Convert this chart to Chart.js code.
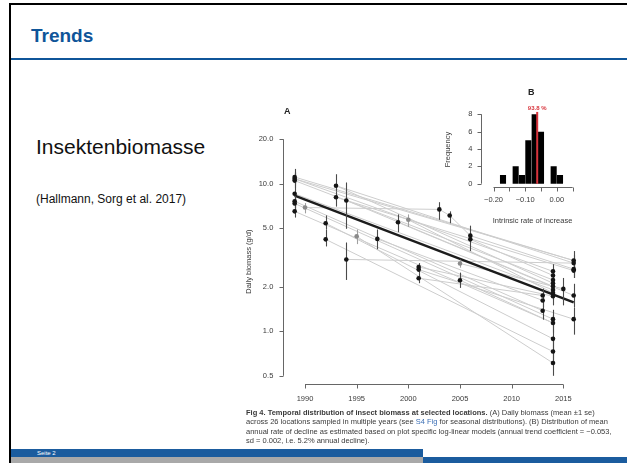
<!DOCTYPE html>
<html>
<head>
<meta charset="utf-8">
<script src="https://cdn.jsdelivr.net/npm/chart.js@4.4.1/dist/chart.umd.min.js"></script>
<style>
html, body { margin: 0; padding: 0; background: #fff; }
body { width: 627px; height: 463px; position: relative; overflow: hidden; font-family: Arial, "Liberation Sans", sans-serif; }
.abs { position: absolute; white-space: nowrap; }
#frameTop { left: 9px; top: 3px; width: 618px; height: 2px; background: #000; }
#frameLeft { left: 9px; top: 3px; width: 2px; height: 460px; background: #000; }
#title { left: 31px; top: 25px; font-size: 19px; font-weight: bold; color: #0f5599; }
#rule { left: 11px; top: 58px; width: 616px; height: 2px; background: #0f5599; }
#subject { left: 36px; top: 135px; font-size: 21px; color: #111; }
#source { left: 36px; top: 192px; font-size: 12px; color: #111; }
#chartA { position: absolute; left: 230px; top: 100px; }
#chartB { position: absolute; left: 430px; top: 95px; }
.panel { font-size: 9px; font-weight: bold; color: #222; }
#caption { left: 246px; top: 408px; font-size: 7.5px; line-height: 9.4px; color: #3a3a3a; }
#caption a { color: #3c6fb5; text-decoration: none; }
#footBlue { left: 11px; top: 449px; width: 412px; height: 8px; background: #1b5c9e; }
#footGrey { left: 11px; top: 457px; width: 412px; height: 6px; background: #a9a9a9; }
#footRight { left: 423px; top: 457px; width: 204px; height: 6px; background: #1b5c9e; }
#page { left: 37px; top: 450px; font-size: 6px; color: #fff; }
</style>
</head>
<body>
<div class="abs" id="frameTop"></div>
<div class="abs" id="frameLeft"></div>
<div class="abs" id="title">Trends</div>
<div class="abs" id="rule"></div>
<div class="abs" id="subject">Insektenbiomasse</div>
<div class="abs" id="source">(Hallmann, Sorg et al. 2017)</div>

<canvas id="chartA" width="360" height="310"></canvas>
<canvas id="chartB" width="180" height="135"></canvas>
<div class="abs panel" style="left:284px; top:106px;">A</div>
<div class="abs panel" style="left:528px; top:87px;">B</div>

<div class="abs" id="caption"><b>Fig 4. Temporal distribution of insect biomass at selected locations.</b> (A) Daily biomass (mean ±1 se)<br>across 26 locations sampled in multiple years (see <a>S4 Fig</a> for seasonal distributions). (B) Distribution of mean<br>annual rate of decline as estimated based on plot specific log-linear models (annual trend coefficient = −0.053,<br>sd = 0.002, i.e. 5.2% annual decline).</div>

<div class="abs" id="footBlue"></div>
<div class="abs" id="footGrey"></div>
<div class="abs" id="footRight"></div>
<div class="abs" id="page">Seite 2</div>

<script>
// ---- panel A: yearly means per location (g/d), with ±1 se ----
const obsYear = [1989, 1989, 1989, 1989, 1989, 1989, 1989, 1990, 1992, 1992, 1993, 1993, 1994, 1994,
  1995, 1997, 1999, 2000, 2001, 2001, 2001, 2003, 2004, 2005, 2005, 2006, 2006,
  2013, 2013, 2013, 2014, 2014, 2014, 2014, 2014, 2014, 2014, 2014, 2014, 2014, 2014, 2014, 2014,
  2015, 2016, 2016, 2016, 2016, 2016, 2016];
const obsMean = [11.1, 10.8, 10.5, 8.55, 7.6, 7.35, 6.5, 6.9, 5.4, 4.2, 9.7, 8.1, 7.7, 3.07,
  4.4, 4.23, 5.48, 5.7, 2.73, 2.62, 2.29, 6.7, 6.1, 2.88, 2.22, 4.45, 4.2,
  1.75, 1.62, 1.38, 2.55, 2.39, 2.23, 2.12, 2.02, 1.91, 1.82, 1.73, 1.21, 1.14, 0.89, 0.73, 0.61,
  1.94, 3.02, 2.9, 2.64, 2.58, 1.75, 1.21];
const obsLow = [9.9, 9.6, 9.4, 7.6, 6.8, 6.5, 5.9, 6.3, 4.9, 3.76, 8.9, 7.0, 4.95, 2.23,
  3.9, 3.6, 4.7, 5.1, 2.55, 2.45, 2.12, 5.7, 5.4, 2.7, 1.97, 4.0, 3.5,
  1.6, 1.45, 1.2, 2.3, 2.15, 2.0, 1.9, 1.8, 1.7, 1.62, 1.5, 1.05, 0.98, 0.76, 0.62, 0.5,
  1.5, 2.7, 2.6, 2.3, 2.3, 1.45, 0.95];
const obsHigh = [12.6, 12.1, 11.8, 9.6, 8.5, 8.3, 7.2, 7.4, 6.1, 4.9, 11.6, 8.9, 10.2, 4.0,
  4.9, 4.9, 6.2, 6.2, 2.9, 2.8, 2.45, 7.5, 6.5, 3.06, 2.5, 5.2, 4.6,
  1.95, 1.8, 1.55, 2.85, 2.65, 2.5, 2.35, 2.25, 2.1, 2.0, 1.95, 1.4, 1.3, 1.05, 0.86, 0.72,
  2.3, 3.5, 3.3, 3.0, 2.9, 2.1, 1.45];
const obsFaded = [0, 0, 0, 0, 0, 0, 0, 1, 0, 0, 0, 0, 0, 0,
  1, 0, 0, 1, 0, 0, 0, 0, 0, 1, 0, 0, 0,
  0, 0, 0, 0, 0, 0, 0, 0, 0, 0, 0, 0, 0, 0, 0, 0,
  0, 0, 0, 0, 0, 0, 0];

// per-location series joining the yearly means
const locationPaths = [
  [[1989, 11.1], [2016, 3.02]],
  [[1989, 10.8], [2014, 2.55]],
  [[1989, 10.5], [2014, 2.23]],
  [[1989, 8.55], [2014, 1.91]],
  [[1989, 7.6], [2013, 1.38]],
  [[1989, 7.35], [2014, 1.21]],
  [[1989, 6.5], [2014, 1.14]],
  [[1990, 6.9], [2003, 6.7], [2004, 6.1], [2006, 4.45], [2016, 2.64]],
  [[1992, 5.4], [2014, 0.89]],
  [[1992, 4.2], [2014, 0.73]],
  [[1993, 9.7], [2014, 2.12]],
  [[1993, 8.1], [2016, 2.58]],
  [[1994, 7.7], [2014, 2.02]],
  [[1994, 3.07], [2016, 2.9]],
  [[1995, 4.4], [2014, 0.61]],
  [[1997, 4.23], [2013, 1.62]],
  [[1999, 5.48], [2016, 1.75]],
  [[2000, 5.7], [2014, 1.82]],
  [[2001, 2.73], [2014, 1.73]],
  [[2001, 2.62], [2016, 1.21]],
  [[2001, 2.29], [2013, 1.75]],
  [[2005, 2.88], [2015, 1.94]],
  [[2005, 2.22], [2014, 1.14]],
  [[2006, 4.2], [2014, 2.39]],
  [[1989, 10.8], [2016, 3.02]],
  [[1993, 9.7], [2016, 2.9]]
];

// overall log-linear trend
const fitYears = [1989, 2016];
const fitValues = [8.3, 1.57];

const xTicksA = [1990, 1995, 2000, 2005, 2010, 2015];
const yTicksA = [0.5, 1, 2, 5, 10, 20];
const yLabelsA = ['0.5', '1.0', '2.0', '5.0', '10.0', '20.0'];

// ---- panel B: histogram of intrinsic rate of increase ----
const binCentres = [-0.17, -0.15, -0.13, -0.11, -0.09, -0.07, -0.05, -0.03, -0.01, 0.01];
const binCounts = [1, 0, 2, 1, 5, 8, 6, 0, 2, 1];
const meanRate = -0.062;
const meanLabel = '93.8 %';
const xTicksB = [-0.20, -0.15, -0.10, -0.05, 0.00, 0.05];
const xLabelsB = ['\u22120.20', '', '\u22120.10', '', '0.00', ''];
const yTicksB = [0, 2, 4, 6, 8];

const axisColour = '#666';
const textColour = '#3a3a3a';

// R-style detached axes drawn along the library scales
const rAxes = {
  id: 'rAxes',
  afterDraw(chart, args, opts) {
    const { ctx, chartArea, scales: { x, y } } = chart;
    const xt = x.ticks.map(t => t.value);
    const yt = y.ticks.map(t => t.value);
    const x0 = Math.round(chartArea.left) + 0.5;
    const y0 = Math.round(chartArea.bottom) + 0.5;
    ctx.save();
    ctx.strokeStyle = axisColour;
    ctx.lineWidth = 1;
    ctx.beginPath();
    ctx.moveTo(x0, y.getPixelForValue(yt[0]));
    ctx.lineTo(x0, y.getPixelForValue(yt[yt.length - 1]));
    yt.forEach(v => {
      const p = Math.round(y.getPixelForValue(v)) + 0.5;
      ctx.moveTo(x0, p);
      ctx.lineTo(x0 - opts.tick, p);
    });
    ctx.moveTo(x.getPixelForValue(xt[0]), y0);
    ctx.lineTo(x.getPixelForValue(xt[xt.length - 1]), y0);
    xt.forEach(v => {
      const p = Math.round(x.getPixelForValue(v)) + 0.5;
      ctx.moveTo(p, y0);
      ctx.lineTo(p, y0 + opts.tick);
    });
    ctx.stroke();
    ctx.restore();
  }
};

// ±1 se whiskers under the mean points
const errorBars = {
  id: 'errorBars',
  beforeDatasetDraw(chart, args) {
    if (!chart.data.datasets[args.index].isMeans) return;
    const { ctx, scales: { x, y } } = chart;
    ctx.save();
    ctx.lineWidth = 1.1;
    obsYear.forEach((yr, i) => {
      const px = Math.round(x.getPixelForValue(yr)) + 0.5;
      ctx.strokeStyle = obsFaded[i] ? '#a0a0a0' : '#4a4a4a';
      ctx.beginPath();
      ctx.moveTo(px, y.getPixelForValue(obsLow[i]));
      ctx.lineTo(px, y.getPixelForValue(obsHigh[i]));
      ctx.stroke();
    });
    ctx.restore();
  }
};

const meanText = {
  id: 'meanText',
  afterDraw(chart) {
    const { ctx, chartArea, scales: { x } } = chart;
    ctx.save();
    ctx.fillStyle = '#d8343c';
    ctx.font = 'bold 6px Arial, "Liberation Sans", sans-serif';
    ctx.textAlign = 'center';
    ctx.textBaseline = 'bottom';
    ctx.fillText(meanLabel, x.getPixelForValue(meanRate), chartArea.top - 0.5);
    ctx.restore();
  }
};

const tickFont = { family: 'Arial, "Liberation Sans", sans-serif', size: 7.5 };

const pathSets = locationPaths.map(path => ({
  data: path.map(p => ({ x: p[0], y: p[1] })),
  showLine: true,
  borderColor: '#cdcdcd',
  borderWidth: 1,
  pointRadius: 0,
  order: 3
}));

new Chart(document.getElementById('chartA'), {
  type: 'scatter',
  data: {
    datasets: [
      {
        isMeans: true,
        data: obsYear.map((yr, i) => ({ x: yr, y: obsMean[i] })),
        pointRadius: 2.3,
        pointBorderWidth: 0,
        pointBackgroundColor: obsFaded.map(f => f ? '#8a8a8a' : '#151515'),
        order: 0
      },
      {
        data: fitYears.map((yr, i) => ({ x: yr, y: fitValues[i] })),
        showLine: true,
        borderColor: '#1c1c1c',
        borderWidth: 2.4,
        pointRadius: 0,
        order: 1
      },
      ...pathSets
    ]
  },
  options: {
    responsive: false,
    animation: false,
    layout: { padding: { top: 39.3, right: 6, bottom: 0, left: 0 } },
    plugins: {
      legend: { display: false },
      tooltip: { enabled: false },
      rAxes: { tick: 4 }
    },
    scales: {
      x: {
        type: 'linear',
        min: 1987.9,
        max: 2017,
        grid: { display: false, drawTicks: false },
        border: { display: false },
        afterBuildTicks: s => { s.ticks = xTicksA.map(v => ({ value: v })); },
        afterFit: s => { s.height = 26; },
        ticks: { padding: 10, font: tickFont, color: textColour, maxRotation: 0, callback: v => String(v) }
      },
      y: {
        type: 'logarithmic',
        min: 0.44,
        max: 20,
        grid: { display: false, drawTicks: false },
        border: { display: false },
        afterBuildTicks: s => { s.ticks = yTicksA.map(v => ({ value: v })); },
        afterFit: s => { s.width = 53.3; },
        ticks: { padding: 10, font: tickFont, color: textColour, callback: (v, i) => yLabelsA[i] },
        title: { display: true, text: 'Daily biomass (g/d)', font: tickFont, color: textColour, padding: { top: 14.5, bottom: 0 } }
      }
    }
  },
  plugins: [rAxes, errorBars]
});

new Chart(document.getElementById('chartB'), {
  type: 'bar',
  data: {
    datasets: [
      {
        type: 'line',
        data: [{ x: meanRate, y: 0 }, { x: meanRate, y: 8.3 }],
        borderColor: '#d8343c',
        borderWidth: 2,
        pointRadius: 0,
        order: 0
      },
      {
        data: binCentres.map((c, i) => ({ x: c, y: binCounts[i] })),
        backgroundColor: '#000',
        borderWidth: 0,
        barPercentage: 1,
        categoryPercentage: 0.96,
        order: 1
      }
    ]
  },
  options: {
    responsive: false,
    animation: false,
    layout: { padding: { top: 16.7, right: 25.5, bottom: 0, left: 0 } },
    plugins: {
      legend: { display: false },
      tooltip: { enabled: false },
      rAxes: { tick: 4 }
    },
    scales: {
      x: {
        type: 'linear',
        min: -0.2137,
        max: 0.06,
        grid: { display: false, drawTicks: false },
        border: { display: false },
        afterBuildTicks: s => { s.ticks = xTicksB.map(v => ({ value: v })); },
        afterFit: s => { s.height = 42.7; },
        ticks: { padding: 8, font: tickFont, color: textColour, maxRotation: 0, autoSkip: false, callback: (v, i) => xLabelsB[i] },
        title: { display: true, text: 'Intrinsic rate of increase', font: tickFont, color: textColour, padding: { top: 0, bottom: 5 } }
      },
      y: {
        type: 'linear',
        min: -0.415,
        max: 8.3,
        grid: { display: false, drawTicks: false },
        border: { display: false },
        afterBuildTicks: s => { s.ticks = yTicksB.map(v => ({ value: v })); },
        afterFit: s => { s.width = 50.5; },
        ticks: { padding: 8, font: tickFont, color: textColour, callback: v => String(v) },
        title: { display: true, text: 'Frequency', font: tickFont, color: textColour, padding: { top: 13.5, bottom: 0 } }
      }
    }
  },
  plugins: [rAxes, meanText]
});
</script>
</body>
</html>
